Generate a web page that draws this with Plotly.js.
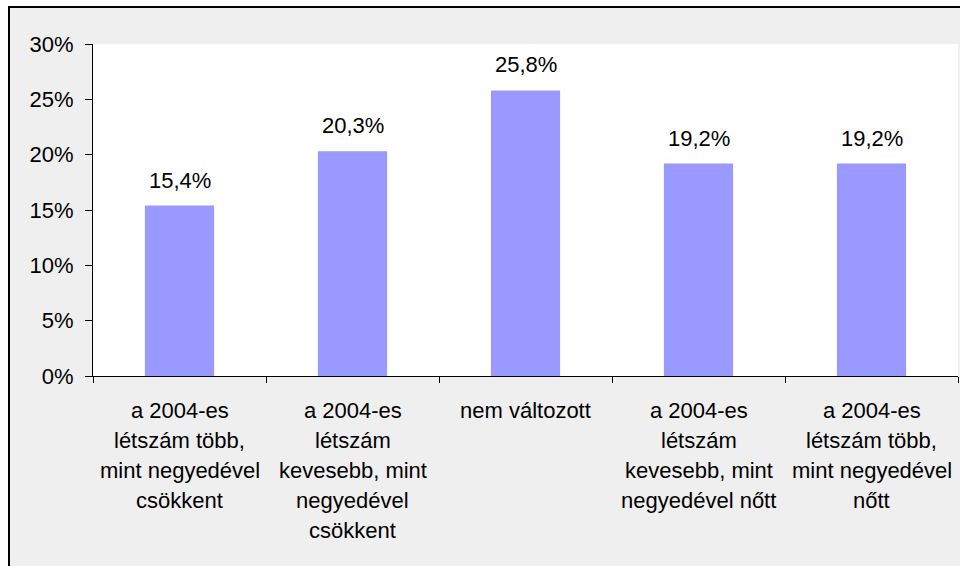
<!DOCTYPE html>
<html>
<head>
<meta charset="utf-8">
<script src="https://cdn.plot.ly/plotly-3.0.1.min.js"></script>
<style>
html, body { margin: 0; padding: 0; background: #ffffff; width: 960px; height: 566px; overflow: hidden; }
#frame { position: absolute; left: 8px; top: 6px; width: 950px; height: 558px; border-left: 2px solid #000; border-top: 2px solid #000; background: #efefef; }
#chart { width: 950px; height: 558px; }
</style>
</head>
<body>
<div id="frame"><div id="chart"></div></div>
<script>
const categories = [
  "a 2004-es<br>létszám több,<br>mint negyedével<br>csökkent",
  "a 2004-es<br>létszám<br>kevesebb, mint<br>negyedével<br>csökkent",
  "nem változott",
  "a 2004-es<br>létszám<br>kevesebb, mint<br>negyedével nőtt",
  "a 2004-es<br>létszám több,<br>mint negyedével<br>nőtt"
];
const values = [15.4, 20.3, 25.8, 19.2, 19.2];
const yTicks = [0, 5, 10, 15, 20, 25, 30];

const FONT = "Liberation Sans, Arial, sans-serif";
const FS = 22;
const idx = categories.map((c, i) => i);

const annotations = [];
values.forEach((v, i) => {
  annotations.push({
    x: i, y: v, xref: 'x', yref: 'y',
    text: v.toFixed(1).replace('.', ',') + '%',
    showarrow: false, yanchor: 'bottom', yshift: 11,
    font: { family: FONT, size: FS, color: '#000' }
  });
});
categories.forEach((c, i) => {
  c.split('<br>').forEach((line, j) => {
    annotations.push({
      x: i, y: 0, xref: 'x', yref: 'paper',
      text: line, showarrow: false, yanchor: 'middle',
      yshift: -(34 + 30 * j),
      font: { family: FONT, size: FS, color: '#000' }
    });
  });
});

const trace = {
  type: 'bar', x: idx, y: values,
  marker: { color: '#9999ff' },
  width: 0.4, hoverinfo: 'none'
};

const layout = {
  width: 950, height: 558,
  margin: { l: 83, r: 2, t: 36, b: 190 },
  paper_bgcolor: '#efefef', plot_bgcolor: '#ffffff',
  showlegend: false,
  font: { family: FONT, size: FS, color: '#000' },
  xaxis: {
    range: [-0.5, 4.5], tickmode: 'array',
    tickvals: [-0.5, 0.5, 1.5, 2.5, 3.5, 4.5], ticktext: ['', '', '', '', '', ''],
    ticks: 'outside', ticklen: 6, tickcolor: '#000', tickwidth: 1,
    showline: true, linecolor: '#000', linewidth: 1, showgrid: false, zeroline: false, fixedrange: true
  },
  yaxis: {
    range: [0, 30], tickmode: 'array', tickvals: yTicks,
    ticktext: yTicks.map(t => t + '%'),
    ticks: 'outside', ticklen: 7, tickcolor: '#000', tickwidth: 1,
    ticklabelstandoff: 7,
    showline: true, linecolor: '#000', linewidth: 1, showgrid: false, zeroline: false,
    tickfont: { family: FONT, size: FS, color: '#000' }, fixedrange: true
  },
  annotations: annotations,
  bargap: 0.6
};

Plotly.newPlot('chart', [trace], layout, { displayModeBar: false, staticPlot: true });
</script>
</body>
</html>
